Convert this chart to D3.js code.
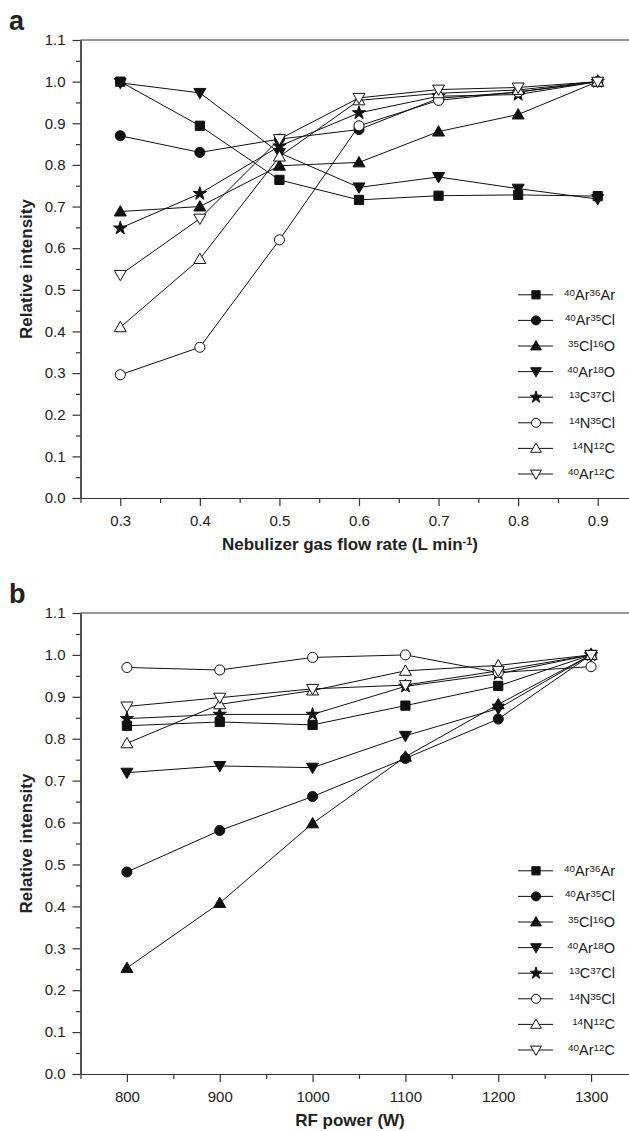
<!DOCTYPE html>
<html>
<head>
<meta charset="utf-8">
<script src="https://cdn.jsdelivr.net/npm/d3@7"></script>
<style>
  body { margin: 0; background: #fff; }
  svg { display: block; font-family: "Liberation Sans", Arial, sans-serif; }
</style>
</head>
<body>
<script>
// species, legend order
const species = ["40Ar36Ar", "40Ar35Cl", "35Cl16O", "40Ar18O", "13C37Cl", "14N35Cl", "14N12C", "40Ar12C"];
const symbols = ["square", "circle", "triangle", "triangleDown", "star", "circle", "triangle", "triangleDown"];
const filled = [true, true, true, true, true, false, false, false];

// panel a: nebulizer gas flow rate
const flowRates = [0.3, 0.4, 0.5, 0.6, 0.7, 0.8, 0.9];
const flowAr36Ar = [1.0, 0.894, 0.764, 0.716, 0.726, 0.728, 0.725];
const flowAr35Cl = [0.870, 0.830, 0.862, 0.885, 0.960, 0.975, 1.0];
const flowCl16O = [0.688, 0.700, 0.798, 0.806, 0.880, 0.921, 1.0];
const flowAr18O = [0.997, 0.973, 0.829, 0.746, 0.771, 0.743, 0.718];
const flowC37Cl = [0.648, 0.731, 0.845, 0.925, 0.965, 0.969, 1.0];
const flowN35Cl = [0.296, 0.362, 0.620, 0.894, 0.955, 0.975, 1.0];
const flowN12C = [0.410, 0.574, 0.820, 0.955, 0.972, 0.980, 1.0];
const flowAr12C = [0.536, 0.671, 0.862, 0.961, 0.981, 0.986, 1.0];

// panel b: RF power
const rfPowers = [800, 900, 1000, 1100, 1200, 1300];
const rfAr36Ar = [0.831, 0.840, 0.833, 0.879, 0.926, 1.0];
const rfAr35Cl = [0.482, 0.581, 0.662, 0.753, 0.847, 1.0];
const rfCl16O = [0.253, 0.408, 0.598, 0.757, 0.882, 1.0];
const rfAr18O = [0.719, 0.735, 0.731, 0.807, 0.872, 1.0];
const rfC37Cl = [0.848, 0.858, 0.858, 0.925, 0.955, 1.0];
const rfN35Cl = [0.970, 0.964, 0.994, 1.0, 0.958, 0.972];
const rfN12C = [0.789, 0.882, 0.915, 0.962, 0.975, 1.0];
const rfAr12C = [0.877, 0.898, 0.919, 0.928, 0.962, 1.0];

const yTicks = d3.range(0, 12).map(i => i / 10);
const yMinor = d3.range(0, 11).map(i => i / 10 + 0.05);
const flowTicks = [0.3, 0.4, 0.5, 0.6, 0.7, 0.8, 0.9];
const flowMinor = [0.25, 0.35, 0.45, 0.55, 0.65, 0.75, 0.85];
const rfTicks = [800, 900, 1000, 1100, 1200, 1300];
const rfMinor = [750, 850, 950, 1050, 1150, 1250];

const W = 629, H = 1131;
const svg = d3.select("body").append("svg").attr("width", W).attr("height", H);

const symbolTypes = {
  square: d3.symbolSquare, circle: d3.symbolCircle, triangle: d3.symbolTriangle,
  triangleDown: d3.symbolTriangle, star: d3.symbolStar
};
const symbolSizes = { square: 85, circle: 80, triangle: 62, triangleDown: 62, star: 55 };

function addMarker(sel, i, cx, cy, k) {
  const s = symbols[i];
  const rot = s === "triangleDown" ? " rotate(180)" : "";
  // centre triangles on their box like the original software does
  const dy = s === "triangle" ? 1 : s === "triangleDown" ? -1 : 0;
  sel.append("path")
    .attr("d", d3.symbol(symbolTypes[s], symbolSizes[s] * k)())
    .attr("transform", `translate(${cx},${cy + dy * k})${rot}`)
    .attr("fill", filled[i] ? "#111" : "#fff")
    .attr("stroke", "#111")
    .attr("stroke-width", 1);
}

function superText(sel, label, size) {
  label.split(/(\d+)/).filter(p => p !== "").forEach(p => {
    const isNum = /^\d+$/.test(p);
    sel.append("tspan")
      .attr("font-size", isNum ? size * 0.68 : size)
      .attr("baseline-shift", isNum ? "45%" : "0%")
      .text(p);
  });
}

function drawPanel(opt) {
  const g = svg.append("g");
  const x = d3.scaleLinear().domain(opt.xDomain).range([80.5, 637.5]);
  const y = d3.scaleLinear().domain([0, 1.1]).range([opt.bottom, opt.top]);

  // minor ticks
  g.append("g").attr("transform", `translate(0,${opt.bottom})`)
    .call(d3.axisBottom(x).tickValues(opt.xMinor).tickSize(5).tickFormat("").tickSizeOuter(0));
  g.append("g").attr("transform", "translate(80.5,0)")
    .call(d3.axisLeft(y).tickValues(yMinor).tickSize(4.5).tickFormat("").tickSizeOuter(0));

  // major ticks + labels
  g.append("g").attr("transform", `translate(0,${opt.bottom})`)
    .call(d3.axisBottom(x).tickValues(opt.xTicks).tickSize(8).tickPadding(9)
      .tickFormat(opt.xFormat).tickSizeOuter(0));
  g.append("g").attr("transform", "translate(80.5,0)")
    .call(d3.axisLeft(y).tickValues(yTicks).tickSize(8).tickPadding(7)
      .tickFormat(d3.format(".1f")).tickSizeOuter(0));

  g.selectAll(".tick text").attr("font-size", 15).attr("fill", "#222")
    .attr("font-family", "Liberation Sans, Arial, sans-serif");
  g.selectAll(".domain, .tick line").attr("stroke", "#333").attr("stroke-width", 1.2);

  // top frame line
  g.append("line").attr("x1", 80.5).attr("x2", W).attr("y1", opt.top).attr("y2", opt.top)
    .attr("stroke", "#333").attr("stroke-width", 1.2);

  // all lines first, then symbols
  const line = d3.line().x((d, j) => x(opt.xs[j])).y(d => y(d));
  opt.series.forEach(vals => {
    g.append("path").attr("d", line(vals)).attr("fill", "none")
      .attr("stroke", "#111").attr("stroke-width", 1);
  });
  opt.series.forEach((vals, i) => {
    vals.forEach((v, j) => addMarker(g, i, x(opt.xs[j]), y(v), 1));
  });

  // legend
  species.forEach((name, i) => {
    const ly = opt.bottom - 24 - (species.length - 1 - i) * 25.6;
    g.append("line").attr("x1", 518).attr("x2", 553).attr("y1", ly).attr("y2", ly)
      .attr("stroke", "#111").attr("stroke-width", 1);
    addMarker(g, i, 536, ly, 0.8);
    const t = g.append("text").attr("x", 615).attr("y", ly + 5)
      .attr("text-anchor", "end").attr("fill", "#222");
    superText(t, name, 14.5);
  });

  // titles
  const xt = g.append("text").attr("x", 350).attr("y", opt.bottom + 52)
    .attr("text-anchor", "middle").attr("font-weight", "bold").attr("font-size", 17).attr("fill", "#222");
  xt.append("tspan").text(opt.xTitle[0]);
  if (opt.xTitle[1]) {
    xt.append("tspan").attr("font-size", 11).attr("baseline-shift", "45%").text(opt.xTitle[1]);
    xt.append("tspan").text(opt.xTitle[2]);
  }
  g.append("text")
    .attr("transform", `translate(32,${(opt.top + opt.bottom) / 2}) rotate(-90)`)
    .attr("text-anchor", "middle").attr("font-weight", "bold").attr("font-size", 17)
    .attr("fill", "#222").text("Relative intensity");
  g.append("text").attr("x", 9).attr("y", opt.top - 10)
    .attr("font-weight", "bold").attr("font-size", 27).attr("fill", "#222").text(opt.letter);
}

drawPanel({
  letter: "a", top: 40, bottom: 498,
  xDomain: [0.25, 0.95], xTicks: flowTicks, xMinor: flowMinor, xFormat: d3.format(".1f"),
  xs: flowRates,
  series: [flowAr36Ar, flowAr35Cl, flowCl16O, flowAr18O, flowC37Cl, flowN35Cl, flowN12C, flowAr12C],
  xTitle: ["Nebulizer gas flow rate (L min", "-1", ")"]
});

drawPanel({
  letter: "b", top: 613, bottom: 1074,
  xDomain: [750, 1350], xTicks: rfTicks, xMinor: rfMinor, xFormat: d3.format("d"),
  xs: rfPowers,
  series: [rfAr36Ar, rfAr35Cl, rfCl16O, rfAr18O, rfC37Cl, rfN35Cl, rfN12C, rfAr12C],
  xTitle: ["RF power (W)"]
});
</script>
</body>
</html>
